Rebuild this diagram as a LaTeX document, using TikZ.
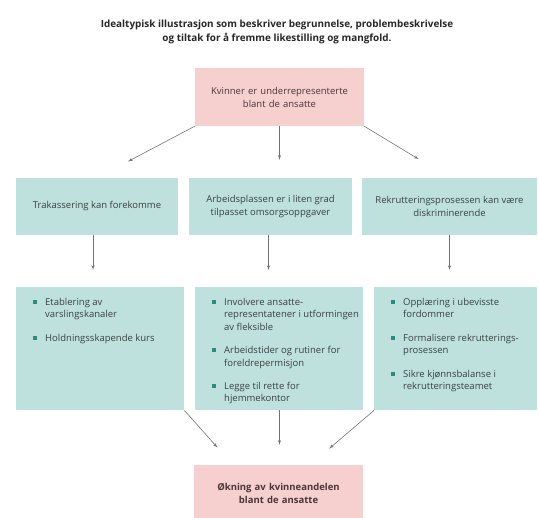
\documentclass[tikz,border=0pt]{standalone}
\usepackage{fontspec}
\setmainfont{Open Sans}
\usetikzlibrary{arrows,calc}
\definecolor{rosa}{HTML}{F6CFCF}
\definecolor{turkis}{HTML}{BFE1DE}
\definecolor{prikk}{HTML}{2A8C7E}
\definecolor{graatekst}{HTML}{374140}
\definecolor{rosatekst}{HTML}{4A3636}
\tikzstyle{rosaboks}=[fill=rosa, text=rosatekst, text width=160pt, align=center,
  minimum width=169pt, minimum height=58pt, inner sep=0pt,
  font=\fontsize{9.5}{13}\selectfont]
\tikzstyle{aarsak} = [fill=turkis, text=graatekst, align=center, inner sep=0pt,
  minimum height=57pt, font=\fontsize{9.5}{13}\selectfont]
\tikzstyle{tiltak} = [fill=turkis, text=graatekst, align=left, inner sep=0pt,
  minimum height=123pt, anchor=north west, font=\fontsize{9.5}{12.4}\selectfont]
\tikzstyle{line} = [draw, semithick, color=black!55, -latex']
\newcommand{\punkt}[1]{\par\noindent\hangindent=12pt\hangafter=1%
  \makebox[12pt][l]{\textcolor{prikk}{\rule[1.5pt]{3.8pt}{3.8pt}}}#1\par\vspace{11pt}}
\newcommand{\tiltaksliste}[2]{\begin{minipage}[t][123pt][t]{#1}%
  \vspace{11pt}\leftskip=17pt #2\end{minipage}}

\begin{document}
\begin{tikzpicture}[x=1pt,y=-1pt]
  \useasboundingbox (0,0) rectangle (539,518);

  % Title
  \node (TITTEL) at (277,32) [align=center, text=black!85,
    font=\bfseries\fontsize{9.9}{14}\selectfont]
    {Idealtypisk illustrasjon som beskriver begrunnelse, problembeskrivelse\\
     og tiltak for å fremme likestilling og mangfold.};

  % Draw diagram elements
  \node (TOPP) at (279.5,97) [rosaboks] {Kvinner er underrepresenterte\\blant de ansatte};

  % problem area
  \node (AARSAK1) at (97,206.5)  [aarsak, minimum width=162pt] {Trakassering kan forekomme};
  \node (AARSAK2) at (270.5,206.5) [aarsak, minimum width=163pt] {Arbeidsplassen er i liten grad\\tilpasset omsorgsoppgaver};
  \node (AARSAK3) at (449.5,206.5) [aarsak, minimum width=175pt] {Rekrutteringsprosessen kan være\\diskriminerende};

  % measures area
  \node (TILTAK1) at (16,287) [tiltak] {\tiltaksliste{168pt}{%
    \punkt{Etablering av\\varslingskanaler}
    \punkt{Holdningsskapende kurs}}};
  \node (TILTAK2) at (195,287) [tiltak] {\tiltaksliste{168pt}{%
    \punkt{Involvere ansatte-\\representatener i utformingen\\av fleksible}
    \punkt{Arbeidstider og rutiner for\\foreldrepermisjon}
    \punkt{Legge til rette for\\hjemmekontor}}};
  \node (TILTAK3) at (374,287) [tiltak] {\tiltaksliste{163pt}{%
    \punkt{Opplæring i ubevisste\\fordommer}
    \punkt{Formalisere rekrutterings-\\prosessen}
    \punkt{Sikre kjønnsbalanse i\\rekrutteringsteamet}}};

  \node (BUNN) at (278.5,493) [rosaboks, minimum height=56pt,
    font=\bfseries\fontsize{9.5}{13}\selectfont]
    {Økning av kvinneandelen\\blant de ansatte};

  % Draw arrows between elements
  \path [line, shorten >=35pt] (TOPP.south west) -- (AARSAK1.north);
  \path [line, shorten >=18pt] (TOPP.south) -- (TOPP.south |- AARSAK2.north);
  \path [line, shorten >=36pt] (TOPP.south east) -- (AARSAK3.north);

  \path [line, shorten >=17pt] ([xshift=-4pt]AARSAK1.south) -- ([xshift=-4pt]AARSAK1.south |- TILTAK1.north);
  \path [line, shorten >=17pt] ([xshift=-2pt]AARSAK2.south) -- ([xshift=-2pt]AARSAK2.south |- TILTAK2.north);
  \path [line, shorten >=17pt] (AARSAK3.south) -- (AARSAK3.south |- TILTAK3.north);

  \path [line, shorten >=23pt] (TILTAK1.south east) -- ([xshift=39pt]BUNN.north west);
  \path [line, shorten >=20pt] (TOPP.south |- TILTAK2.south) -- (BUNN.north -| TOPP.south);
  \path [line, shorten >=25pt] (TILTAK3.south west) -- ([xshift=-53pt]BUNN.north east);
\end{tikzpicture}
\end{document}
